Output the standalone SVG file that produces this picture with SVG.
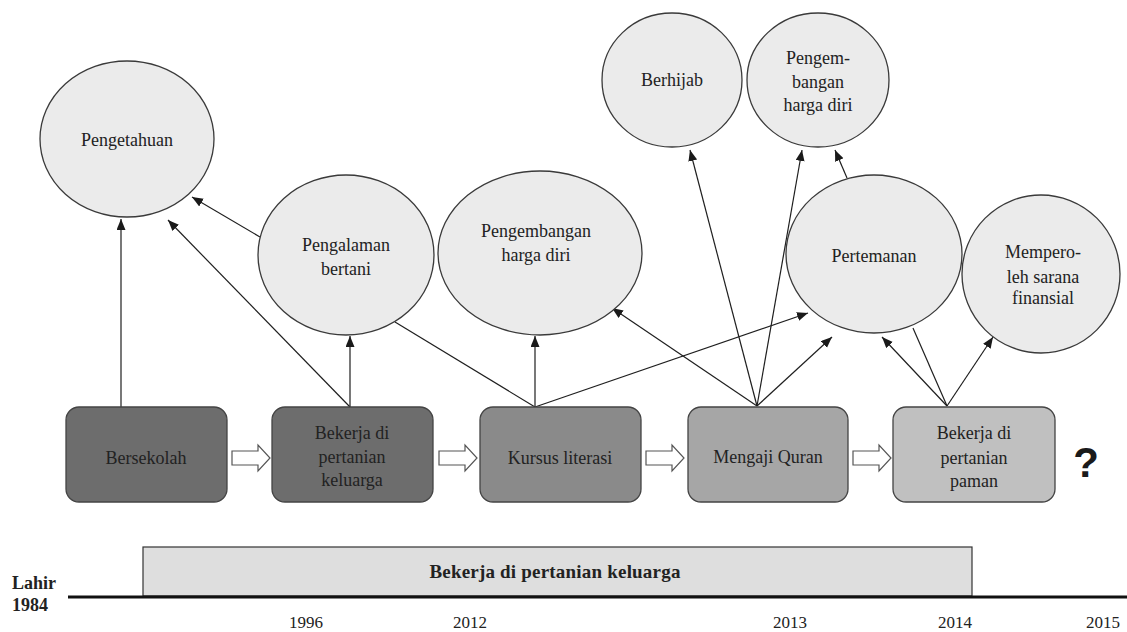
<svg xmlns="http://www.w3.org/2000/svg" width="1127" height="632" viewBox="0 0 1127 632">
<defs>
<marker id="ah" markerUnits="userSpaceOnUse" markerWidth="12" markerHeight="10" refX="11" refY="4.5" orient="auto">
<path d="M0,0 L11,4.5 L0,9 z" fill="#1a1a1a"/>
</marker>
<path id="blk" d="M0,-7 L26,-7 L26,-13 L38,0 L26,13 L26,7 L0,7 z"/>
</defs>
<style>
.c{fill:#ebebeb;stroke:#3a3a3a;stroke-width:1.3}
.b{stroke:#444;stroke-width:1.3}
.t{font-family:'Liberation Serif','Times New Roman',serif;font-size:18px;fill:#222;text-anchor:middle}
.ln{stroke:#1f1f1f;stroke-width:1.2;fill:none}
.ar{marker-end:url(#ah)}
.ba{fill:#fff;stroke:#555;stroke-width:1.2}
.tb{font-family:'Liberation Serif','Times New Roman',serif;font-weight:bold;fill:#222}
.yr{font-family:'Liberation Serif','Times New Roman',serif;font-size:17px;fill:#222;text-anchor:middle}
</style>
<rect width="1127" height="632" fill="#fff"/>

<g id="connectors">
<line class="ln ar" x1="121" y1="407" x2="121" y2="219"/>
<line class="ln ar" x1="350" y1="407" x2="168" y2="220"/>
<line class="ln ar" x1="260" y1="237" x2="192" y2="197"/>
<line class="ln ar" x1="350" y1="407" x2="350" y2="336"/>
<line class="ln" x1="395" y1="322" x2="535" y2="407"/>
<line class="ln ar" x1="535" y1="407" x2="535" y2="336"/>
<line class="ln ar" x1="535" y1="407" x2="808" y2="313"/>
<line class="ln ar" x1="757" y1="406" x2="612" y2="308"/>
<line class="ln ar" x1="757" y1="406" x2="690" y2="150"/>
<line class="ln ar" x1="757" y1="406" x2="802" y2="150"/>
<line class="ln ar" x1="757" y1="406" x2="832" y2="337"/>
<line class="ln ar" x1="847" y1="178" x2="835" y2="150"/>
<line class="ln ar" x1="947" y1="406" x2="882" y2="337"/>
<line class="ln" x1="913" y1="328" x2="947" y2="406"/>
<line class="ln ar" x1="947" y1="406" x2="993" y2="337"/>
</g>

<g id="n-pengetahuan">
<ellipse class="c" cx="127" cy="139" rx="87" ry="78"/>
<text class="t" x="127" y="146">Pengetahuan</text>
</g>
<g id="n-pengalaman">
<ellipse class="c" cx="346" cy="255" rx="88" ry="80"/>
<text class="t" x="346" y="251">Pengalaman</text>
<text class="t" x="346" y="275">bertani</text>
</g>
<g id="n-pengembangan1">
<ellipse class="c" cx="540" cy="253" rx="102" ry="82"/>
<text class="t" x="536" y="237">Pengembangan</text>
<text class="t" x="536" y="261">harga diri</text>
</g>
<g id="n-berhijab">
<ellipse class="c" cx="672" cy="80" rx="70" ry="67"/>
<text class="t" x="672" y="86">Berhijab</text>
</g>
<g id="n-pengembangan2">
<ellipse class="c" cx="818" cy="80" rx="71" ry="67"/>
<text class="t" x="818" y="64">Pengem-</text>
<text class="t" x="818" y="88">bangan</text>
<text class="t" x="818" y="111">harga diri</text>
</g>
<g id="n-pertemanan">
<ellipse class="c" cx="874" cy="254" rx="88" ry="79"/>
<text class="t" x="874" y="262">Pertemanan</text>
</g>
<g id="n-memperoleh">
<ellipse class="c" cx="1041" cy="274" rx="79" ry="79"/>
<text class="t" x="1043" y="258">Mempero-</text>
<text class="t" x="1043" y="283">leh sarana</text>
<text class="t" x="1043" y="304">finansial</text>
</g>

<g id="n-bersekolah">
<rect class="b" x="66" y="407" width="161" height="95" rx="13" fill="#6d6d6d"/>
<text class="t" x="146" y="464">Bersekolah</text>
</g>
<g id="n-bekerja-keluarga">
<rect class="b" x="272" y="407" width="161" height="95" rx="13" fill="#6d6d6d"/>
<text class="t" x="352" y="439">Bekerja di</text>
<text class="t" x="352" y="463">pertanian</text>
<text class="t" x="352" y="486">keluarga</text>
</g>
<g id="n-kursus">
<rect class="b" x="480" y="407" width="161" height="95" rx="13" fill="#8a8a8a"/>
<text class="t" x="560" y="464">Kursus literasi</text>
</g>
<g id="n-mengaji">
<rect class="b" x="688" y="407" width="160" height="95" rx="13" fill="#a6a6a6"/>
<text class="t" x="768" y="463">Mengaji Quran</text>
</g>
<g id="n-bekerja-paman">
<rect class="b" x="893" y="407" width="162" height="95" rx="13" fill="#c0c0c0"/>
<text class="t" x="974" y="439">Bekerja di</text>
<text class="t" x="974" y="464">pertanian</text>
<text class="t" x="974" y="487">paman</text>
</g>

<g id="flow-arrows">
<use href="#blk" class="ba" x="232" y="458"/>
<use href="#blk" class="ba" x="439" y="458"/>
<use href="#blk" class="ba" x="646" y="458"/>
<use href="#blk" class="ba" x="853" y="458"/>
</g>

<g id="q">
<text x="1086" y="477" font-family="'Liberation Sans',sans-serif" font-weight="bold" font-size="42" fill="#1a1a1a" text-anchor="middle">?</text>
</g>

<g id="timeline">
<rect x="143" y="547" width="829" height="49" fill="#dedede" stroke="#333" stroke-width="1.2"/>
<line x1="68" y1="597" x2="1127" y2="597" stroke="#111" stroke-width="3"/>
<text class="tb" x="555" y="578" font-size="19" text-anchor="middle" letter-spacing="0.2">Bekerja di pertanian keluarga</text>
<text class="tb" x="12" y="589" font-size="18">Lahir</text>
<text class="tb" x="12" y="611" font-size="18">1984</text>
<text class="yr" x="306" y="628">1996</text>
<text class="yr" x="470" y="628">2012</text>
<text class="yr" x="790" y="628">2013</text>
<text class="yr" x="955" y="628">2014</text>
<text class="yr" x="1103" y="628">2015</text>
</g>
</svg>
